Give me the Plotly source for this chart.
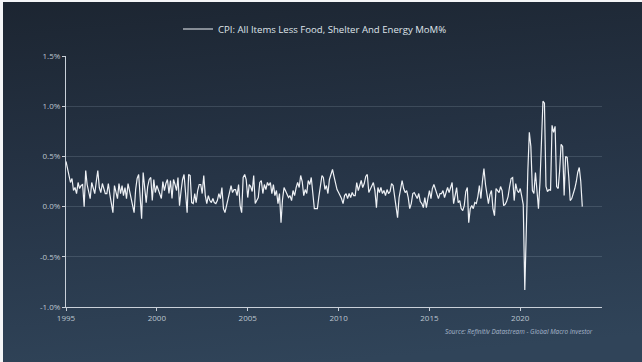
import base64
import pandas as pd
import plotly.graph_objects as go

# ---------------- data ----------------
series_name = "CPI: All Items Less Food, Shelter And Energy MoM%"
start_month = "1995-01-01"
# monthly % change, Jan 1995 .. Jun 2023 (one row per year)
cpi_mom = [
    0.45, 0.38, 0.30, 0.24, 0.28, 0.16, 0.19, 0.13, 0.24, 0.18, 0.21, 0.22,   # 1995
    0.00, 0.36, 0.22, 0.15, 0.08, 0.24, 0.19, 0.13, 0.25, 0.36, 0.19, 0.14,   # 1996
    0.23, 0.17, 0.13, 0.13, 0.23, 0.12, 0.03, -0.06, 0.21, 0.15, 0.08, 0.23,  # 1997
    0.13, 0.21, 0.11, 0.19, 0.08, 0.23, 0.16, 0.10, 0.02, -0.06, 0.17, 0.28,  # 1998
    0.32, 0.04, -0.12, 0.34, 0.22, 0.04, 0.20, 0.27, 0.29, 0.06, 0.27, 0.14,  # 1999
    0.21, 0.17, 0.12, 0.08, 0.25, 0.16, 0.23, 0.27, 0.13, 0.26, 0.08, 0.27,   # 2000
    0.22, 0.16, 0.29, 0.01, 0.15, 0.27, 0.32, 0.13, -0.06, 0.32, 0.31, 0.04,  # 2001
    0.03, 0.13, 0.04, 0.16, 0.22, 0.22, 0.13, 0.31, 0.11, 0.03, 0.11, 0.06,   # 2002
    0.04, 0.08, 0.04, 0.03, 0.06, 0.13, 0.08, 0.19, -0.02, -0.06, 0.01, 0.09, # 2003
    0.15, 0.21, 0.14, 0.17, 0.17, 0.11, 0.22, 0.01, -0.06, 0.29, 0.32, 0.27,  # 2004
    0.09, 0.22, 0.20, 0.15, 0.31, 0.03, 0.06, 0.09, 0.24, 0.26, 0.13, 0.22,   # 2005
    0.17, 0.24, 0.21, 0.24, 0.13, 0.22, 0.11, 0.16, 0.03, 0.13, -0.16, 0.07,  # 2006
    0.19, 0.16, 0.12, 0.09, 0.11, 0.06, 0.16, 0.11, 0.19, 0.24, 0.19, 0.31,   # 2007
    0.25, 0.11, 0.17, 0.13, 0.26, 0.22, 0.29, 0.16, -0.02, -0.02, -0.02, 0.10,# 2008
    0.22, 0.31, 0.29, 0.17, 0.21, 0.13, 0.27, 0.31, 0.37, 0.30, 0.22, 0.17,   # 2009
    0.14, 0.11, 0.08, 0.03, 0.11, 0.13, 0.08, 0.13, 0.09, 0.14, 0.11, 0.11,   # 2010
    0.24, 0.16, 0.22, 0.26, 0.19, 0.23, 0.30, 0.32, 0.14, 0.17, 0.21, 0.24,   # 2011
    0.16, -0.01, 0.19, 0.14, 0.19, 0.13, 0.16, 0.11, 0.17, 0.13, 0.15, 0.23,  # 2012
    0.21, 0.08, -0.01, -0.11, 0.09, 0.20, 0.26, 0.18, 0.14, 0.16, 0.09, -0.02,# 2013
    0.03, 0.13, 0.14, 0.11, 0.08, 0.13, 0.05, 0.03, -0.01, 0.09, -0.01, 0.08, # 2014
    0.16, 0.08, 0.18, 0.22, 0.18, 0.12, 0.08, 0.13, 0.13, 0.16, 0.09, 0.14,   # 2015
    0.19, 0.14, 0.20, 0.24, 0.03, 0.11, 0.19, 0.04, 0.06, -0.02, -0.04, 0.01, # 2016
    0.15, 0.19, -0.16, -0.02, 0.01, -0.02, 0.04, 0.03, 0.10, 0.21, 0.08, 0.25,# 2017
    0.38, 0.22, 0.10, 0.03, 0.12, 0.16, -0.02, -0.09, 0.18, 0.16, 0.14, 0.20, # 2018
    0.16, 0.01, 0.02, 0.05, 0.10, 0.20, 0.28, 0.29, 0.06, 0.23, 0.16, 0.14,   # 2019
    0.18, 0.10, 0.02, -0.83, -0.10, 0.35, 0.74, 0.60, 0.16, 0.13, 0.34, 0.15, # 2020
    -0.02, 0.25, 0.62, 1.05, 1.03, 0.20, 0.15, 0.17, 0.16, 0.81, 0.74, 0.80,  # 2021
    0.20, 0.18, 0.35, 0.62, 0.60, 0.11, 0.50, 0.49, 0.30, 0.06, 0.08, 0.12,   # 2022
    0.18, 0.25, 0.34, 0.39, 0.25, 0.00,                                       # 2023
]
y_tick_values = [-1.0, -0.5, 0.0, 0.5, 1.0, 1.5]
y_tick_labels = ["-1.0%", "-0.5%", "0.0%", "0.5%", "1.0%", "1.5%"]
x_range = ["1995-01-01", "2024-07-01"]
source_text = "Source: Refinitiv Datastream - Global Macro Investor"

dates = pd.date_range(start_month, periods=len(cpi_mom), freq="MS")

# ---------------- layout geometry ----------------
W, H = 642, 362
ML, MR, MT, MB = 66, 40, 56, 55
PW, PH = W - ML - MR, H - MT - MB


def px_x(px):
    return (px - ML) / PW


def px_y(py):
    return 1 - (py - MT) / PH


svg = (
    '<svg xmlns="http://www.w3.org/2000/svg" width="700" height="400" preserveAspectRatio="none">'
    '<defs><linearGradient id="g" x1="0" y1="0" x2="0.15" y2="1">'
    '<stop offset="0" stop-color="#1c2531"/>'
    '<stop offset="0.5" stop-color="#263446"/>'
    '<stop offset="1" stop-color="#304459"/>'
    '</linearGradient></defs>'
    '<rect width="700" height="400" fill="url(#g)"/></svg>'
)
bg_uri = "data:image/svg+xml;base64," + base64.b64encode(svg.encode()).decode()

fig = go.Figure()
fig.add_trace(go.Scatter(
    x=dates, y=cpi_mom, mode="lines", name=series_name,
    line=dict(color="#eef1f5", width=1.2),
))

axis_col = "#c9d0d9"
tick_font = dict(family="Open Sans, sans-serif", size=8, color="#bcc5cf")

fig.update_layout(
    width=W, height=H,
    margin=dict(l=ML, r=MR, t=MT, b=MB, pad=0, autoexpand=False),
    paper_bgcolor="#2e4156",
    plot_bgcolor="rgba(0,0,0,0)",
    showlegend=True,
    legend=dict(
        orientation="h",
        x=px_x(315), xanchor="center",
        y=px_y(29), yanchor="middle",
        font=dict(family="Open Sans, sans-serif", size=9.6, color="#dfe4ea"),
        bgcolor="rgba(0,0,0,0)",
        itemwidth=30,
    ),
    images=[dict(
        source=bg_uri, xref="paper", yref="paper",
        x=px_x(0), y=px_y(0),
        sizex=(W + 20) / PW, sizey=(H + 20) / PH,
        xanchor="left", yanchor="top", sizing="stretch", layer="below",
    )],
    shapes=[
        dict(type="rect", xref="paper", yref="paper", layer="below",
             x0=px_x(0), x1=px_x(3), y0=px_y(H + 5), y1=px_y(-5),
             fillcolor="#f4f5f7", line=dict(width=0)),
        dict(type="rect", xref="paper", yref="paper", layer="below",
             x0=px_x(0), x1=px_x(W + 5), y0=px_y(2), y1=px_y(-5),
             fillcolor="#f4f5f7", line=dict(width=0)),
    ],
    xaxis=dict(
        type="date", range=x_range,
        tick0="1995-01-01", dtick="M60", tickformat="%Y",
        showgrid=False, zeroline=False,
        showline=True, linecolor=axis_col, linewidth=1,
        ticks="outside", ticklen=3, tickcolor=axis_col,
        tickfont=tick_font,
    ),
    yaxis=dict(
        range=[-1.0, 1.5],
        tickvals=y_tick_values, ticktext=y_tick_labels,
        showgrid=True, gridcolor="rgba(200,215,230,0.16)", gridwidth=1,
        zeroline=False,
        showline=True, linecolor=axis_col, linewidth=1,
        ticks="outside", ticklen=3, tickcolor=axis_col,
        tickfont=tick_font,
    ),
    annotations=[dict(
        text="<i>" + source_text + "</i>", xref="paper", yref="paper",
        x=px_x(595), y=px_y(331.5),
        xanchor="right", yanchor="middle", showarrow=False,
        font=dict(family="Open Sans, sans-serif", size=6.4, color="#a8b8cc"),
    )],
)

fig.write_html(
    "out.html",
    config={"displayModeBar": False},
    post_script="document.body.style.margin='0px';",
)
